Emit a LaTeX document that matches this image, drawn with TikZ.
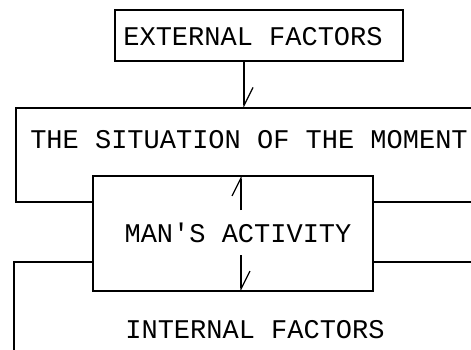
\documentclass[tikz,border=0pt]{standalone}
\usepackage{fontspec}
\usepackage{tikz}
\usetikzlibrary{arrows.meta}
\newfontfamily\boxfont{Liberation Mono}

\begin{document}
\begin{tikzpicture}[x=1pt, y=-1pt, line width=1.2pt,
		>={Straight Barb[left, length=18pt, width=18pt, line width=1.2pt]},
		every node/.style={font=\boxfont\fontsize{27}{30}\selectfont, inner sep=0pt}]
						\useasboundingbox (0, 0) rectangle (471, 350);
						\coordinate (SitTop) at (244, 108);
						\coordinate (UpStart) at (241, 210);
						\coordinate (DownStart) at (241, 255);
						
						\node[draw, minimum width=288pt, minimum height=51pt] (External) at (259, 35.5) {};
						\node (ExternalText) at (253, 37) {EXTERNAL FACTORS};
						
						\node[draw, minimum width=280pt, minimum height=115pt] (Man) at (233, 233.5) {};
						\node (ManText) at (238, 233) {MAN'S ACTIVITY};
						
						% open frame of the situation
						\draw (471, 108) -- (16, 108) -- (16, 202) -- (Man.west |- 0, 202);
						\draw (Man.east |- 0, 202) -- (471, 202);
						\node (Situation) at (249, 140) {THE SITUATION OF THE MOMENT};
						
						% open frame of the internal factors
						\draw (Man.west |- 0, 262) -- (14, 262) -- (14, 350);
						\draw (Man.east |- 0, 262) -- (471, 262);
						\node (Internal) at (255, 330) {INTERNAL FACTORS};
						
						\draw[->] (External.south -| SitTop) -- (SitTop);
						\draw[->] (UpStart) -- (Man.north -| UpStart);
						\draw[->] (DownStart) -- (Man.south -| DownStart);
\end{tikzpicture}
\end{document}
